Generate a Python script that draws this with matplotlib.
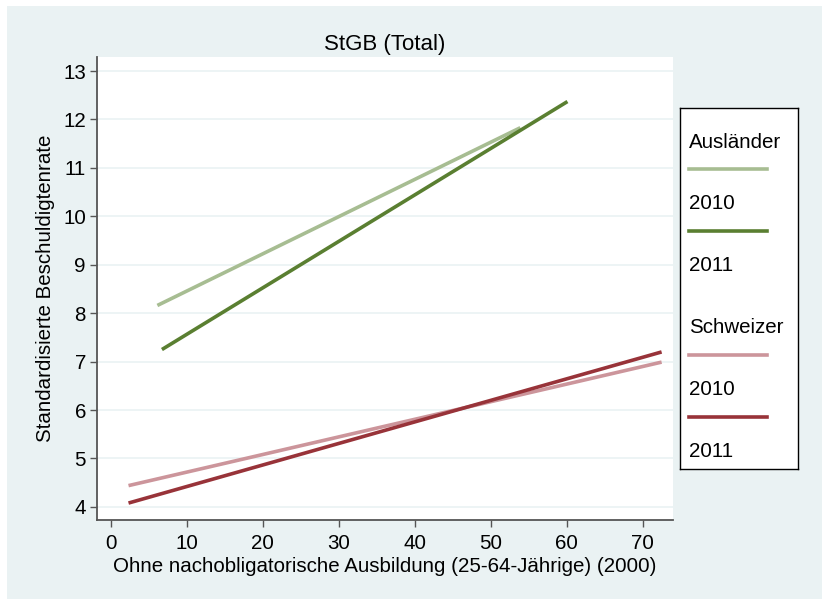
import matplotlib
matplotlib.use("Agg")
import matplotlib.pyplot as plt
from matplotlib.lines import Line2D
from matplotlib.patches import Rectangle

plt.rcParams["font.family"] = ["Liberation Sans", "DejaVu Sans"]

# Fitted lines: (x start, x end), (y start, y end)
ausl_2010_x = [6.1, 53.9]
ausl_2010_y = [8.16, 11.83]
ausl_2011_x = [6.7, 60.1]
ausl_2011_y = [7.25, 12.37]
schw_2010_x = [2.3, 72.5]
schw_2010_y = [4.44, 6.99]
schw_2011_x = [2.3, 72.5]
schw_2011_y = [4.08, 7.20]

x_ticks = [0, 10, 20, 30, 40, 50, 60, 70]
y_ticks = [4, 5, 6, 7, 8, 9, 10, 11, 12, 13]

c_a10 = "#a7bd92"
c_a11 = "#5a7f31"
c_s10 = "#cc959b"
c_s11 = "#983339"
bg = "#eaf2f3"
fs = 14.8

W, H = 822, 599
fig = plt.figure(figsize=(W / 100, H / 100), dpi=100)
fig.patch.set_facecolor("white")
fig.patches.append(Rectangle((7 / W, 0), 1, 1 - 6 / H, transform=fig.transFigure,
                             facecolor=bg, edgecolor="none", zorder=-10))

ax = fig.add_axes([97 / W, 1 - 520 / H, (673 - 97) / W, (520 - 57) / H])
ax.set_facecolor("white")
lw = 2.6
ax.plot(ausl_2010_x, ausl_2010_y, color=c_a10, lw=lw, solid_capstyle="butt")
ax.plot(ausl_2011_x, ausl_2011_y, color=c_a11, lw=lw, solid_capstyle="butt")
ax.plot(schw_2010_x, schw_2010_y, color=c_s10, lw=lw, solid_capstyle="butt")
ax.plot(schw_2011_x, schw_2011_y, color=c_s11, lw=lw, solid_capstyle="butt")

ax.set_xlim(-1.85, 74.0)
ax.set_ylim(3.73, 13.29)
ax.set_xticks(x_ticks)
ax.set_yticks(y_ticks)
ax.grid(axis="y", color=bg, lw=1.2)
ax.set_axisbelow(True)
for s in ["top", "right"]:
    ax.spines[s].set_visible(False)
for s in ["left", "bottom"]:
    ax.spines[s].set_color("#555555")
    ax.spines[s].set_linewidth(1.3)
ax.tick_params(labelsize=fs, length=5, width=1, color="#555555", pad=3)
ax.tick_params(axis="x", pad=5)
ax.set_title("StGB (Total)", fontsize=16, pad=5)
ax.set_xlabel("Ohne nachobligatorische Ausbildung (25-64-Jährige) (2000)", fontsize=fs, labelpad=3)
ax.set_ylabel("Standardisierte Beschuldigtenrate", fontsize=fs, labelpad=6)

# legend box
lx0, lx1, ly0, ly1 = 680, 798, 108, 469
lg = fig.add_axes([lx0 / W, 1 - ly1 / H, (lx1 - lx0) / W, (ly1 - ly0) / H])
lg.set_xlim(lx0, lx1)
lg.set_ylim(ly1, ly0)
lg.set_xticks([])
lg.set_yticks([])
for s in lg.spines.values():
    s.set_color("black")
    s.set_linewidth(1)
items = [("text", "Ausländer", 142), ("line", c_a10, 169), ("text", "2010", 203),
         ("line", c_a11, 231), ("text", "2011", 265), ("text", "Schweizer", 327),
         ("line", c_s10, 355), ("text", "2010", 389), ("line", c_s11, 417),
         ("text", "2011", 451)]
for kind, val, yy in items:
    if kind == "text":
        lg.text(689, yy, val, fontsize=fs, va="center", ha="left")
    else:
        lg.add_line(Line2D([689, 767], [yy, yy], color=val, lw=lw))

fig.savefig("out.png", dpi=100)
